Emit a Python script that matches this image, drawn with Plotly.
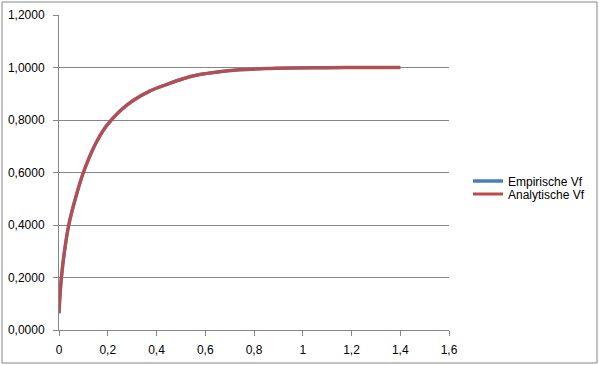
import plotly.graph_objects as go

# Values
x_emp = [0, 0.004, 0.0098, 0.023, 0.04, 0.067, 0.1, 0.148, 0.186, 0.215, 0.25, 0.304,
         0.372, 0.441, 0.509, 0.577, 0.65, 0.741, 0.85, 0.95, 1.1, 1.25, 1.4]
y_emp = [0.064, 0.131, 0.2, 0.303, 0.4, 0.5, 0.6, 0.706, 0.767, 0.8, 0.834, 0.874,
         0.910, 0.935, 0.957, 0.973, 0.983, 0.991, 0.996, 0.998, 0.999, 1.0, 1.0]
x_ana = list(x_emp)
y_ana = list(y_emp)

x_ticks = [0, 0.2, 0.4, 0.6, 0.8, 1.0, 1.2, 1.4, 1.6]
x_tick_text = ["0", "0,2", "0,4", "0,6", "0,8", "1", "1,2", "1,4", "1,6"]
y_ticks = [0, 0.2, 0.4, 0.6, 0.8, 1.0, 1.2]
y_tick_text = ["0,0000", "0,2000", "0,4000", "0,6000", "0,8000", "1,0000", "1,2000"]

GRAY = "#868686"
FONT = dict(family="Liberation Sans, Arial, sans-serif", size=12, color="#000000")

L, R, T, B = 59, 150, 15, 35
W, H = 599, 365
pw, ph = W - L - R, H - T - B

def px_x(p):
    return (p - L) / pw

def px_y(p):
    return (H - B - p) / ph

fig = go.Figure()
fig.add_trace(go.Scatter(x=x_emp, y=y_emp, mode="lines", name="Empirische Vf",
                         line=dict(color="#4A7EBB", width=3.5, shape="spline", smoothing=1),
                         legend="legend", hoverinfo="skip"))
fig.add_trace(go.Scatter(x=x_ana, y=y_ana, mode="lines", name="Analytische Vf",
                         line=dict(color="#BE4B48", width=3, shape="spline", smoothing=1),
                         legend="legend2", hoverinfo="skip"))

fig.update_layout(
    template="none",
    width=W, height=H, autosize=False,
    margin=dict(l=L, r=R, t=T, b=B, pad=0),
    paper_bgcolor="white", plot_bgcolor="white",
    font=FONT,
    showlegend=True,
    legend=dict(xref="container", yref="container", x=468 / W, y=1 - 181 / H,
                xanchor="left", yanchor="middle",
                bgcolor="rgba(0,0,0,0)", font=FONT, itemwidth=30,
                tracegroupgap=0, borderwidth=0),
    legend2=dict(xref="container", yref="container", x=468 / W, y=1 - 194 / H,
                 xanchor="left", yanchor="middle",
                 bgcolor="rgba(0,0,0,0)", font=FONT, itemwidth=30,
                 tracegroupgap=0, borderwidth=0),
    xaxis=dict(range=[0, 1.6], tickvals=x_ticks, ticktext=x_tick_text,
               showgrid=False, zeroline=False, showline=True, linecolor=GRAY,
               linewidth=1, ticks="outside", ticklen=5, tickcolor=GRAY,
               ticklabelstandoff=4, fixedrange=True, automargin=False),
    yaxis=dict(range=[0, 1.2], tickvals=y_ticks, ticktext=y_tick_text,
               showgrid=True, gridcolor=GRAY, gridwidth=1, zeroline=False,
               showline=True, linecolor=GRAY, linewidth=1, ticks="outside",
               ticklen=5, tickcolor=GRAY, ticklabelstandoff=6, fixedrange=True,
               automargin=False),
    shapes=[dict(type="rect", xref="paper", yref="paper",
                 x0=px_x(2), x1=px_x(597), y0=px_y(363), y1=px_y(2),
                 line=dict(color=GRAY, width=1), layer="below")],
)

fig.write_html("out.html", config={"displayModeBar": False})
